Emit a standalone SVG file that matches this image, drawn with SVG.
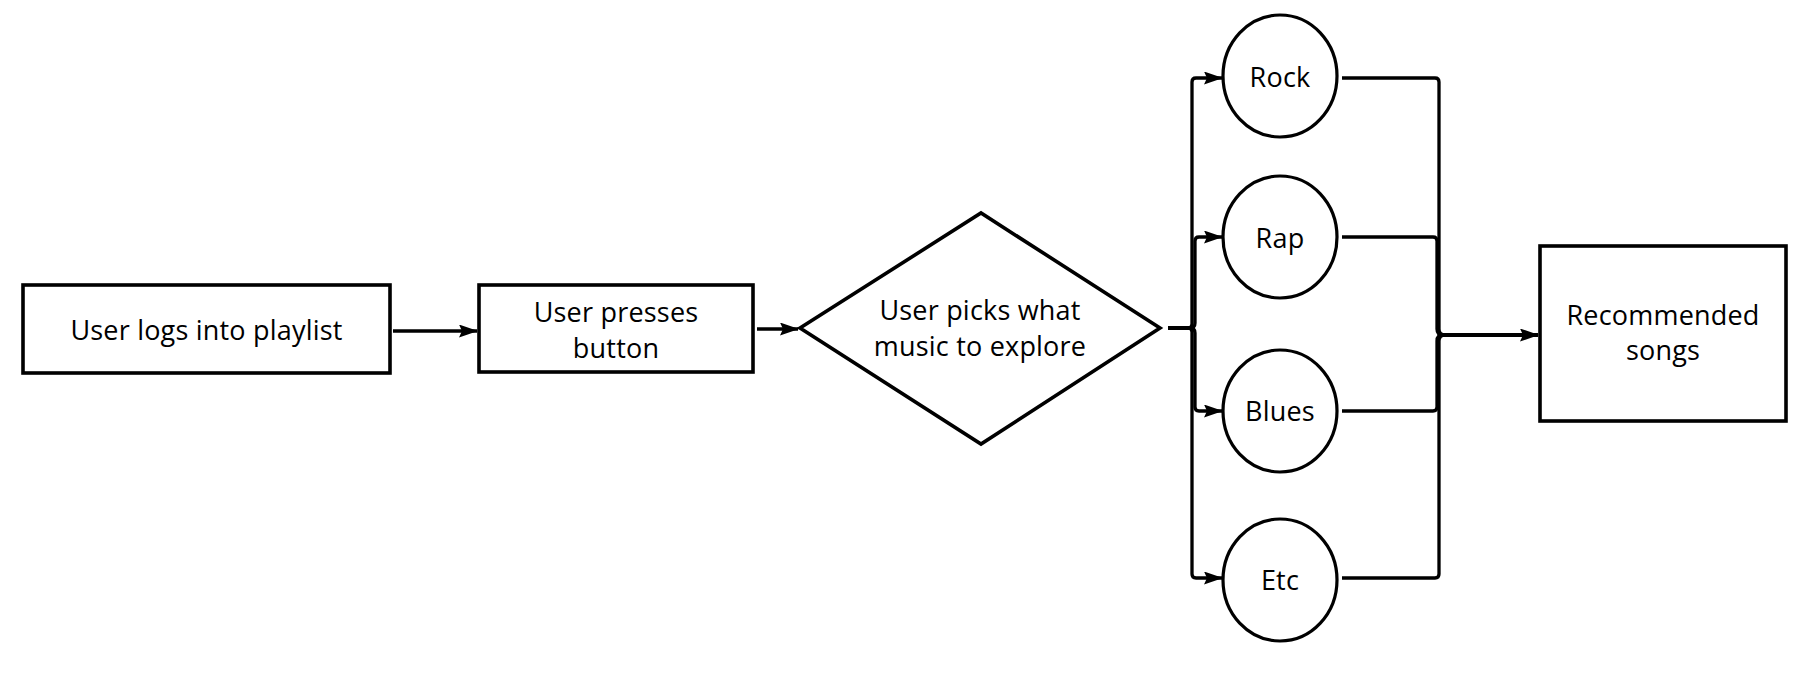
<svg xmlns="http://www.w3.org/2000/svg" width="1800" height="673" viewBox="0 0 1800 673">
<defs>
<marker id="arr" viewBox="0 0 19 13" refX="18" refY="6.5" markerWidth="19" markerHeight="13" markerUnits="userSpaceOnUse" orient="auto">
<path d="M0,0 L19,6.5 L0,13 L3,6.5 Z" fill="#000"/>
</marker>
<style>
.shape{fill:#fff;stroke:#000;stroke-width:3.6}
.ell{fill:#fff;stroke:#000;stroke-width:3.2}
.lbl{font-family:"Open Sans","Liberation Sans",sans-serif;font-size:27px;letter-spacing:0.2px;fill:#000;text-anchor:middle}
.con{fill:none;stroke:#000;stroke-width:3.3;stroke-linejoin:round;stroke-linecap:butt}
</style>
</defs>
<rect width="1800" height="673" fill="#fff"/>
<g id="connectors">
<path class="con" d="M393,331 L477,331" marker-end="url(#arr)"/>
<path class="con" d="M757,329 L798,329" marker-end="url(#arr)"/>
<path class="con" d="M1168,328 L1188,328 Q1192,328 1192,324 L1192,82 Q1192,78 1196,78 L1222,78" marker-end="url(#arr)"/>
<path class="con" d="M1168,328 L1190,328 Q1195,328 1195,323 L1195,241 Q1195,237 1199,237 L1222,237" marker-end="url(#arr)"/>
<path class="con" d="M1168,328 L1190,328 Q1195,328 1195,333 L1195,407 Q1195,411 1199,411 L1222,411" marker-end="url(#arr)"/>
<path class="con" d="M1168,328 L1188,328 Q1192,328 1192,332 L1192,574 Q1192,578 1196,578 L1222,578" marker-end="url(#arr)"/>
<path class="con" d="M1342,78 L1435,78 Q1439,78 1439,82 L1439,329 Q1439,335 1445,335 L1538,335" marker-end="url(#arr)"/>
<path class="con" d="M1342,237 L1433,237 Q1437,237 1437,241 L1437,329 Q1437,335 1443,335 L1538,335"/>
<path class="con" d="M1342,411 L1433,411 Q1437,411 1437,407 L1437,341 Q1437,335 1443,335 L1538,335"/>
<path class="con" d="M1342,578 L1435,578 Q1439,578 1439,574 L1439,341 Q1439,335 1445,335 L1538,335"/>
</g>
<g id="node-login">
<rect class="shape" x="23" y="285" width="367" height="88"/>
<text class="lbl" x="206.5" y="340">User logs into playlist</text>
</g>
<g id="node-press">
<rect class="shape" x="479" y="285" width="274" height="87"/>
<text class="lbl" x="616" y="322">User presses</text>
<text class="lbl" x="616" y="358">button</text>
</g>
<g id="node-pick">
<polygon class="shape" points="800,328 981,213 1160,328 981,444"/>
<text class="lbl" x="980" y="320">User picks what</text>
<text class="lbl" x="980" y="356">music to explore</text>
</g>
<g id="node-rock">
<ellipse class="ell" cx="1280" cy="76" rx="57" ry="61"/>
<text class="lbl" x="1280" y="87">Rock</text>
</g>
<g id="node-rap">
<ellipse class="ell" cx="1280" cy="237" rx="57" ry="61"/>
<text class="lbl" x="1280" y="248">Rap</text>
</g>
<g id="node-blues">
<ellipse class="ell" cx="1280" cy="411" rx="57" ry="61"/>
<text class="lbl" x="1280" y="421">Blues</text>
</g>
<g id="node-etc">
<ellipse class="ell" cx="1280" cy="580" rx="57" ry="61"/>
<text class="lbl" x="1280" y="590">Etc</text>
</g>
<g id="node-recommended">
<rect class="shape" x="1540" y="246" width="246" height="175"/>
<text class="lbl" x="1663" y="325">Recommended</text>
<text class="lbl" x="1663" y="360">songs</text>
</g>
</svg>
